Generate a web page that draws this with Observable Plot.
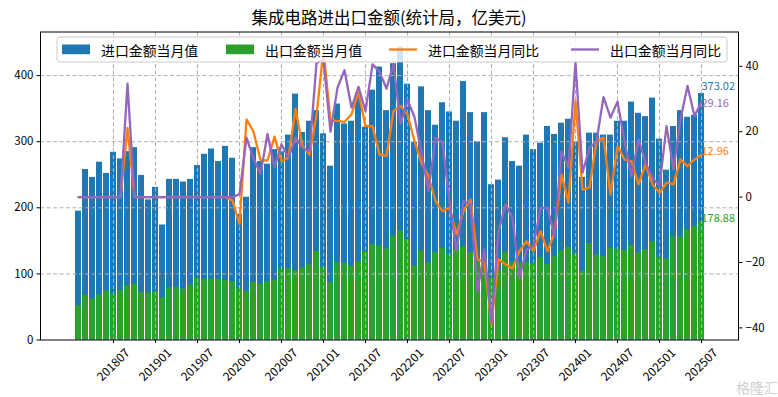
<!DOCTYPE html>
<html><head><meta charset="utf-8">
<script src="https://cdn.jsdelivr.net/npm/d3@7"></script>
<script src="https://cdn.jsdelivr.net/npm/@observablehq/plot@0.6"></script>
<style>body{margin:0;background:#fff}</style>
</head><body><div id="chart"></div>
<script>
const months = [
"201802","201803","201804","201805","201806","201807","201808","201809","201810","201811","201812","201901",
"201902","201903","201904","201905","201906","201907","201908","201909","201910","201911","201912","202001",
"202002","202003","202004","202005","202006","202007","202008","202009","202010","202011","202012","202101",
"202102","202103","202104","202105","202106","202107","202108","202109","202110","202111","202112","202201",
"202202","202203","202204","202205","202206","202207","202208","202209","202210","202211","202212","202301",
"202302","202303","202304","202305","202306","202307","202308","202309","202310","202311","202312","202401",
"202402","202403","202404","202405","202406","202407","202408","202409","202410","202411","202412","202501",
"202502","202503","202504","202505","202506","202507"];
const imports = [
195,258,246,269,252,284,274,285,291,249,212,231,
174,243,243,239,243,264,281,289,270,293,275,190,
216,291,270,266,288,285,310,372,314,331,347,312,
263,357,327,331,374,322,378,413,347,418,443,387,
299,383,347,325,359,345,331,391,344,300,344,235,
242,306,270,263,310,288,298,323,311,328,334,300,
246,313,313,310,310,331,331,360,343,338,366,304,
257,323,347,337,340,373.02];
const exports = [
52,68,62,68,74,69,75,82,84,72,71,73,
64,79,80,77,83,93,92,92,92,90,88,77,
73,87,84,88,90,107,108,105,109,114,134,110,
87,117,116,112,119,134,144,142,138,157,165,152,
112,135,117,132,139,129,137,141,132,120,120,94,
104,132,117,117,117,116,125,114,126,135,140,130,
104,146,129,126,139,137,135,143,132,137,149,125,
122,156,156,167,172,178.88];
const impYoY = [
0,0,0,0,0,0,0,21.2,0,0,0,0,
0,0,0,0,0,0,0,0,0,0,-1,-8.3,
23.8,20,11.3,11.2,18.5,11,12,27,15.6,13,25,45,
23.3,23.3,23,25.3,32,21.7,21.7,13,12.6,26.3,27.9,25.3,
17.1,10.5,6.4,-1.2,-4.3,-3.3,-11.4,-4.3,-0.7,-19,-20,-39,
-19,-20.6,-21.8,-16.5,-13.5,-16.5,-10.4,-16.5,-10.9,6.9,-1.7,29.4,
2.3,2.9,17.1,18.2,0.8,15.6,11.5,11,3.9,10,3.9,1.3,
4.4,3.9,11.5,9.5,11.5,12.96];
const expYoY = [
0,0,0,0,0,0,0,34.7,0,0,0,0,
0,0,0,0,0,0,0,0,0,0,0,0.9,
18.2,11.8,7.1,19.3,9.1,16.2,12,18.2,15,14,41,42,
20,33.5,38.8,27.4,33.7,26.3,40.6,38.3,33.2,40.7,22.4,29.7,
24.5,13.5,1.8,18.2,16.8,-1.5,-16.5,-1.2,-2.2,-28.7,-16,-38.5,
-10.5,-2.2,-6.5,-24.7,-16,-15,-3.3,-3.3,-12,14,9,41.3,
7.5,15,17.1,30.6,24.3,29.2,17.1,6.4,17.7,10.5,5.9,3.4,
21.7,8.5,23.8,34,24.8,29.16];
const xTicks = ["201807","201901","201907","202001","202007","202101","202107","202201","202207","202301","202307","202401","202407","202501","202507"];
const leftTicks = [0,100,200,300,400];
const rightTicks = [-40,-20,0,20,40];
const seriesNames = ["进口金额当月值","出口金额当月值","进口金额当月同比","出口金额当月同比"];
const colors = ["#1f77b4","#2ca02c","#ff7f0e","#9467bd"];
const title = "集成电路进出口金额(统计局，亿美元)";

const W = 778, H = 397, mL = 40, mR = 40, mT = 31.5, mB = 57.5;
const yMax = 466, rMin = -43.7, rMax = 50.5;
const toLeft = v => (v - rMin) / (rMax - rMin) * yMax;
const fromLeft = u => u / yMax * (rMax - rMin) + rMin;
const fmtR = v => { const r = Math.round(v); return r < 0 ? "\u2212" + Math.abs(r) : String(r); };
const data = months.map((m, i) => ({m, imp: imports[i], exp: exports[i], iy: impYoY[i], ey: expYoY[i]}));
const last = data[data.length - 1];
const font = "'Noto Sans CJK SC', 'Noto Sans', sans-serif";
const grid = {stroke: "#b0b0b0", strokeOpacity: 1, strokeDasharray: "4,2.5", strokeWidth: 1};
const endLabel = {textAnchor: "start", lineAnchor: "bottom", fontSize: 11};

const plot = Plot.plot({
  width: W, height: H, marginLeft: mL, marginRight: mR, marginTop: mT, marginBottom: mB,
  style: {fontFamily: font, fontSize: "11px", background: "white", color: "black"},
  x: {type: "band", domain: months, paddingInner: 0.15, paddingOuter: 4.46, axis: null, label: null},
  y: {domain: [0, yMax], axis: null, label: null},
  marks: [
    Plot.barY(data, {x: "m", y: "imp", fill: colors[0]}),
    Plot.barY(data, {x: "m", y: "exp", fill: colors[1]}),
    Plot.gridY(leftTicks.filter(d => d > 0), grid),
    Plot.gridX(xTicks, grid),
    Plot.line(data, {x: "m", y: d => toLeft(d.iy), stroke: colors[2], strokeWidth: 2.3}),
    Plot.line(data, {x: "m", y: d => toLeft(d.ey), stroke: colors[3], strokeWidth: 2.3}),
    Plot.frame({stroke: "black", strokeWidth: 1}),
    Plot.axisY(leftTicks, {anchor: "left", tickSize: 3.5, tickPadding: 3.5, fontSize: 11.5, label: null}),
    Plot.axisY(rightTicks.map(toLeft), {anchor: "right", tickSize: 3.5, tickPadding: 3.5, fontSize: 11.5, label: null, tickFormat: d => fmtR(fromLeft(d))}),
    Plot.axisX(xTicks, {anchor: "bottom", tickSize: 3.5, tickFormat: () => "", label: null}),
    Plot.text(xTicks, {x: d => d, text: d => d, frameAnchor: "bottom", dy: 25, rotate: -45, textAnchor: "middle", lineAnchor: "middle", fontSize: 12}),
    Plot.text([last], {x: "m", y: "imp", text: d => d.imp.toFixed(2), fill: colors[0], dy: -3, ...endLabel}),
    Plot.text([last], {x: "m", y: "exp", text: d => d.exp.toFixed(2), fill: colors[1], ...endLabel}),
    Plot.text([last], {x: "m", y: d => toLeft(d.iy), text: d => d.iy.toFixed(2), fill: colors[2], ...endLabel}),
    Plot.text([last], {x: "m", y: d => toLeft(d.ey), text: d => d.ey.toFixed(2), fill: colors[3], dy: 5, ...endLabel})
  ]
});

const svg = d3.select(plot);
svg.append("text").attr("x", 389).attr("y", 17).attr("text-anchor", "middle")
  .attr("dominant-baseline", "central").attr("font-family", font).attr("font-size", 16.5)
  .attr("fill", "black").text(title);

// legend
const lg = svg.append("g").attr("font-family", font).attr("font-size", 13.9).attr("text-anchor", "start");
lg.append("rect").attr("x", 57).attr("y", 37).attr("width", 670).attr("height", 25).attr("rx", 3)
  .attr("fill", "white").attr("fill-opacity", 0.8).attr("stroke", "#cccccc");
const cy = 49.5;
const lx = [62, 226, 389, 571];
seriesNames.forEach((name, i) => {
  if (i < 2) {
    lg.append("rect").attr("x", lx[i]).attr("y", cy - 5).attr("width", 28).attr("height", 9.7).attr("fill", colors[i]);
  } else {
    lg.append("line").attr("x1", lx[i]).attr("x2", lx[i] + 28).attr("y1", cy).attr("y2", cy)
      .attr("stroke", colors[i]).attr("stroke-width", 2.3);
  }
  lg.append("text").attr("x", lx[i] + 39).attr("y", cy).attr("dominant-baseline", "central")
    .attr("text-anchor", "start").attr("fill", "black").text(name);
});

// watermark
svg.append("text").attr("x", 757).attr("y", 387).attr("text-anchor", "middle").attr("dominant-baseline", "central")
  .attr("font-family", font).attr("font-size", 14).attr("fill", "#cfcfcf").text("格隆汇");

document.getElementById("chart").appendChild(plot);
</script>
</body></html>
